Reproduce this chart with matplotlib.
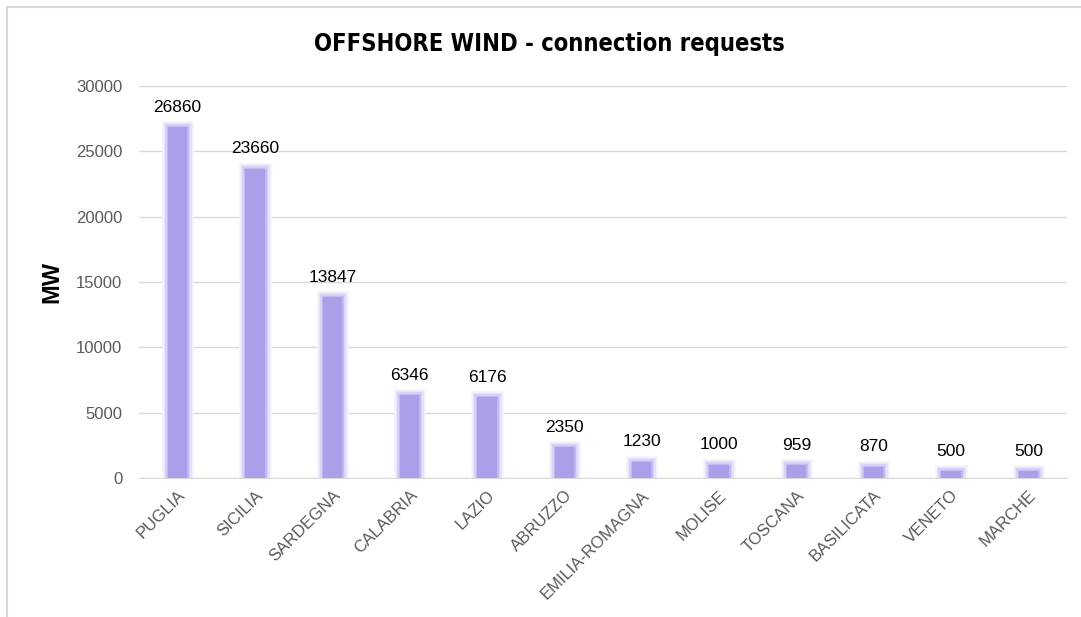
import matplotlib.pyplot as plt
import matplotlib.patheffects as pe
from matplotlib.lines import Line2D
from matplotlib import font_manager

regions = ["PUGLIA", "SICILIA", "SARDEGNA", "CALABRIA", "LAZIO", "ABRUZZO",
           "EMILIA-ROMAGNA", "MOLISE", "TOSCANA", "BASILICATA", "VENETO", "MARCHE"]
mw = [26860, 23660, 13847, 6346, 6176, 2350, 1230, 1000, 959, 870, 500, 500]
yticks = [0, 5000, 10000, 15000, 20000, 25000, 30000]

plt.rcParams['font.family'] = ['Liberation Sans', 'DejaVu Sans']

# look for a narrow bold face for the title
narrow = None
for f in font_manager.fontManager.ttflist:
    if ('Narrow' in f.name or 'Condensed' in f.name or f.stretch in ('condensed', 'semi-condensed')) \
            and f.weight in ('bold', 700, 600, 'semibold'):
        narrow = f.fname
        break

fig = plt.figure(figsize=(10.81, 6.17), dpi=100)
ax = fig.add_axes([139/1081, 1 - 478/617, 928/1081, 392/617])

bars = ax.bar(range(len(regions)), mw, width=0.25, color='#ab9fea', zorder=3)
for b in bars:
    b.set_path_effects([pe.Stroke(linewidth=9, foreground='#f4f2fd'),
                        pe.Stroke(linewidth=6.5, foreground='#e6e2fb'),
                        pe.Stroke(linewidth=4, foreground='#d5cef7'),
                        pe.Stroke(linewidth=1.8, foreground='#c0b6f2'),
                        pe.Normal()])

for i, v in enumerate(mw):
    ax.annotate(str(v), (i, v), xytext=(0, 9), textcoords='offset points',
                ha='center', va='bottom', fontsize=12.5, color='black')

ax.set_xlim(-0.5, len(regions) - 0.5)
ax.set_ylim(0, 30000)
ax.set_yticks(yticks)
ax.set_yticklabels([str(t) for t in yticks], fontsize=12, color='#595959')
ax.set_xticks(range(len(regions)))
ax.set_xticklabels(regions, rotation=45, ha='right', rotation_mode='anchor',
                   fontsize=12, color='#595959')
ax.tick_params(length=0, pad=12)
ax.tick_params(axis='x', pad=7)
ax.grid(axis='y', color='#d9d9d9', linewidth=1, zorder=0)
for s in ['top', 'right', 'left']:
    ax.spines[s].set_visible(False)
ax.spines['bottom'].set_color('#d9d9d9')

fig.text(52/1081, 1 - 282/617, "MW", rotation=90, fontsize=17, fontweight='bold',
         ha='center', va='center')
if narrow:
    fig.text(549/1081, 1 - 44/617, "OFFSHORE WIND - connection requests",
             font=font_manager.FontProperties(fname=narrow, size=17),
             ha='center', va='center')
else:
    fig.text(549/1081, 1 - 44/617, "OFFSHORE WIND - connection requests",
             fontsize=15.5, fontweight='bold', ha='center', va='center')

# chart frame
fig.add_artist(Line2D([7.5/1081, 7.5/1081], [0, 1 - 6.5/617], transform=fig.transFigure,
                      color='#d9d9d9', linewidth=1.5))
fig.add_artist(Line2D([7.5/1081, 1], [1 - 6.5/617, 1 - 6.5/617], transform=fig.transFigure,
                      color='#d9d9d9', linewidth=1.5))

fig.savefig("out.png", dpi=100)
